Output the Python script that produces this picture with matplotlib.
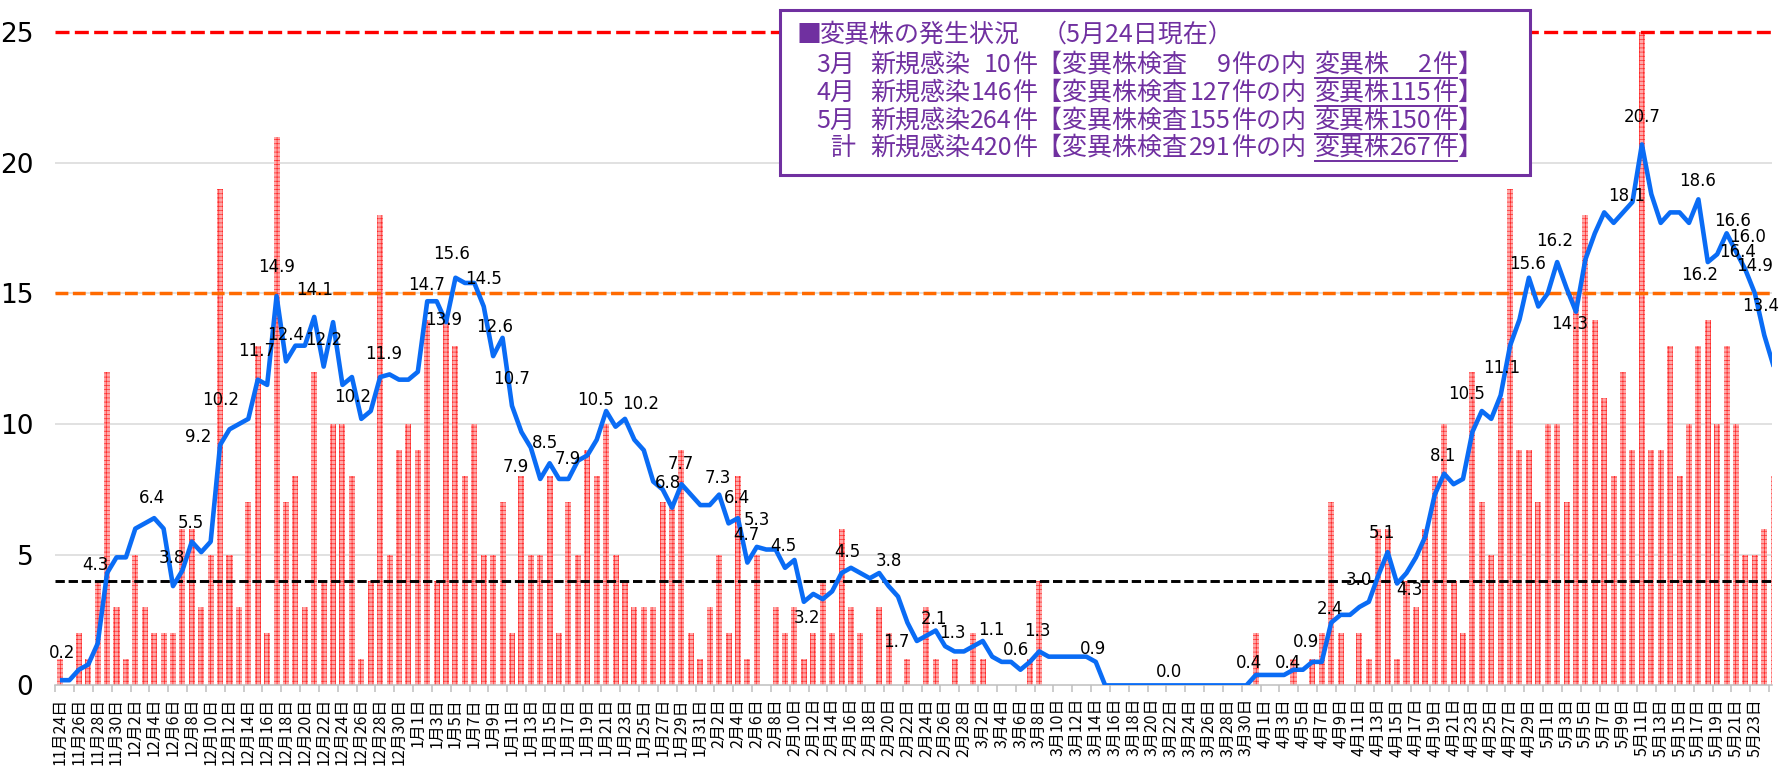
import numpy as np
import pandas as pd
import matplotlib
matplotlib.use('Agg')
import matplotlib.pyplot as plt
from matplotlib.patches import Rectangle
from matplotlib.lines import Line2D

W, H = 1783, 782
CJK = ['Noto Sans CJK JP', 'DejaVu Sans']
PURPLE = '#7030A0'

# daily new cases (bars), starting 2020-11-24
daily_cases = [
    1, 0, 2, 1, 4, 12, 3, 1, 5, 3, 2, 2, 2, 6, 6, 3, 5, 19, 5, 3,
    7, 13, 2, 21, 7, 8, 3, 12, 4, 10, 10, 8, 1, 4, 18, 5, 9, 10, 9, 14,
    4, 14, 13, 8, 10, 5, 5, 7, 2, 8, 5, 5, 8, 2, 7, 5, 9, 8, 10, 5,
    4, 3, 3, 3, 7, 7, 9, 2, 1, 3, 5, 2, 8, 1, 5, 0, 3, 2, 3, 1,
    2, 4, 2, 6, 3, 2, 0, 3, 2, 0, 1, 0, 3, 1, 0, 1, 0, 2, 1, 0,
    0, 0, 0, 1, 4, 0, 0, 0, 0, 0, 0, 0, 0, 0, 0, 0, 0, 0, 0, 0,
    0, 0, 0, 0, 0, 0, 0, 2, 0, 0, 0, 1, 0, 1, 2, 7, 2, 0, 2, 1,
    6, 6, 1, 4, 3, 6, 8, 10, 4, 2, 12, 7, 5, 11, 19, 9, 9, 7, 10, 10,
    7, 15, 18, 14, 11, 8, 12, 9, 25, 9, 9, 13, 8, 10, 13, 14, 10, 13, 10, 5,
    5, 6, 8,
]

# 7-day average (blue line)
weekly_avg = [
    0.2, 0.2, 0.6, 0.8, 1.6, 4.3, 4.9, 4.9, 6.0, 6.2, 6.4, 6.0, 3.8, 4.4, 5.5, 5.1, 5.5, 9.2, 9.8, 10.0,
    10.2, 11.7, 11.5, 14.9, 12.4, 13.0, 13.0, 14.1, 12.2, 13.9, 11.5, 11.8, 10.2, 10.5, 11.8, 11.9, 11.7, 11.7, 12.0, 14.7,
    14.7, 13.9, 15.6, 15.4, 15.4, 14.5, 12.6, 13.3, 10.7, 9.7, 9.1, 7.9, 8.5, 7.9, 7.9, 8.6, 8.8, 9.4, 10.5, 9.9,
    10.2, 9.4, 9.0, 7.8, 7.5, 6.8, 7.7, 7.3, 6.9, 6.9, 7.3, 6.2, 6.4, 4.7, 5.3, 5.2, 5.2, 4.5, 4.8, 3.2,
    3.5, 3.3, 3.6, 4.3, 4.5, 4.3, 4.1, 4.3, 3.8, 3.4, 2.4, 1.7, 1.9, 2.1, 1.5, 1.3, 1.3, 1.5, 1.7, 1.1,
    0.9, 0.9, 0.6, 0.9, 1.3, 1.1, 1.1, 1.1, 1.1, 1.1, 0.9, 0.0, 0.0, 0.0, 0.0, 0.0, 0.0, 0.0, 0.0, 0.0,
    0.0, 0.0, 0.0, 0.0, 0.0, 0.0, 0.0, 0.4, 0.4, 0.4, 0.4, 0.6, 0.6, 0.9, 0.9, 2.4, 2.7, 2.7, 3.0, 3.2,
    4.2, 5.1, 3.9, 4.3, 4.9, 5.7, 7.3, 8.1, 7.7, 7.9, 9.7, 10.5, 10.2, 11.1, 13.0, 14.0, 15.6, 14.5, 15.0, 16.2,
    15.2, 14.3, 16.3, 17.3, 18.1, 17.7, 18.1, 18.5, 20.7, 18.8, 17.7, 18.1, 18.1, 17.7, 18.6, 16.2, 16.5, 17.3, 16.6, 15.9,
    15.0, 13.4, 12.2,
]

# labelled points on the line: (index, text, dx, dy) offsets in pixels, dy downwards
line_labels = [
    (0, '0.2', 2, -27), (5, '4.3', -12, -8), (10, '6.4', -2, -20), (12, '3.8', -1, -28),
    (14, '5.5', -1, -19), (17, '9.2', -22, -8), (20, '10.2', -28, -19), (21, '11.7', -1, -29),
    (23, '14.9', 0, -29), (24, '12.4', 0, -26), (27, '14.1', 0, -27), (28, '12.2', 0, -27),
    (32, '10.2', -9, -22), (35, '11.9', -6, -20), (39, '14.7', -1, -16), (41, '13.9', -2, -2),
    (42, '15.6', -4, -24), (45, '14.5', 0, -27), (46, '12.6', 1, -29), (48, '10.7', 0, -27),
    (51, '7.9', -24, -12), (52, '8.5', -5, -20), (54, '7.9', -1, -20), (58, '10.5', -11, -11),
    (60, '10.2', 16, -15), (65, '6.8', -4, -25), (66, '7.7', -1, -20), (70, '7.3', -1, -17),
    (72, '6.4', -1, -20), (73, '4.7', -1, -28), (74, '5.3', 0, -27), (77, '4.5', -2, -22),
    (79, '3.2', 3, 16), (84, '4.5', -4, -16), (88, '3.8', 0, -25), (91, '1.7', -21, 1),
    (93, '2.1', -2, -12), (95, '1.3', -2, -18), (99, '1.1', -1, -27), (102, '0.6', -4, -20),
    (104, '1.3', -2, -20), (110, '0.9', -3, -13), (118, '0.0', -2, -13), (127, '0.4', -7, -12),
    (130, '0.4', 4, -12), (133, '0.9', -6, -20), (135, '2.4', -1, -14), (138, '3.0', -1, -27),
    (141, '5.1', -6, -19), (143, '4.3', 3, 17), (147, '8.1', -1, -18), (151, '10.5', -15, -17),
    (153, '11.1', 1, -27), (156, '15.6', -1, -14), (159, '16.2', -3, -21), (161, '14.3', -6, 12),
    (166, '18.1', 4, -16), (168, '20.7', 0, -27), (174, '18.6', -1, -18), (175, '16.2', -8, 13),
    (177, '16.6', 6, -12), (178, '16.0', 12, -15), (178, '16.4', 2, 0), (180, '14.9', 0, -27),
    (181, '13.4', -4, -29),
]

# summary box
box_months = ['3月', '4月', '5月', '計']
box_new = [10, 146, 264, 420]
box_tested = [9, 127, 155, 291]
box_variant = [2, 115, 150, 267]

# reference levels
ref_levels = [25, 15, 4]


def main():
    n = len(daily_cases)
    x = np.arange(n)
    dates = pd.date_range('2020-11-24', periods=n, freq='D')
    date_labels = [f'{d.month}月{d.day}日' for d in dates]

    plt.rcParams['hatch.linewidth'] = 0.5

    fig = plt.figure(figsize=(W / 100, H / 100), dpi=100)
    ax = fig.add_axes([55.3 / W, (H - 685.4) / H, (1772.3 - 55.3) / W, 653.3 / H])
    ax.set_xlim(-0.5, 181.85)
    ax.set_ylim(0, 25)

    # gridlines
    for v in (5, 10, 15, 20):
        ax.axhline(v, color='#D9D9D9', lw=1.1, zorder=1)

    ax.bar(x, daily_cases, width=0.64, color='#FFA8A8', edgecolor='#FF2A2A',
           linewidth=0, hatch='++++', zorder=2)

    ax.axhline(ref_levels[0], color='#FF0000', lw=2.4, dashes=(4.2, 1.6), zorder=4, clip_on=False)
    ax.axhline(ref_levels[1], color='#FF6A00', lw=2.5, dashes=(3.7, 1.3), zorder=4)
    ax.axhline(ref_levels[2], color='black', lw=2.1, dashes=(3.2, 1.3), zorder=4)

    ax.plot(x, weekly_avg, color='#0A6CF5', lw=3.3, zorder=5, solid_capstyle='butt')

    for i, txt, dx, dy in line_labels:
        ax.annotate(txt, (i, weekly_avg[i]), xytext=(dx, -dy), textcoords='offset pixels',
                    ha='center', va='center', fontsize=12, color='black', zorder=6,
                    family='DejaVu Sans')

    for side in ('left', 'right', 'top'):
        ax.spines[side].set_visible(False)
    ax.spines['bottom'].set_color('#BFBFBF')
    ax.spines['bottom'].set_linewidth(1.1)
    ax.spines['bottom'].set_zorder(3)

    ax.set_yticks([0, 5, 10, 15, 20, 25])
    ax.tick_params(axis='y', length=0, pad=15.8)
    for t in ax.get_yticklabels():
        t.set_fontsize(19)
        t.set_family(['Liberation Sans Narrow', 'DejaVu Sans'])

    ticks = list(range(0, 181, 2))
    ax.set_xticks(ticks)
    ax.set_xticklabels([date_labels[i] for i in ticks], rotation=90, fontsize=11.5, family=CJK)
    ax.set_xticks(np.arange(-0.5, 182, 2), minor=True)
    ax.tick_params(axis='x', which='major', length=0, pad=9)
    ax.tick_params(axis='x', which='minor', length=5, width=1.1, color='#BFBFBF', direction='out')

    # summary box in figure pixels
    def fx(px):
        return px / W

    def fy(py):
        return 1 - py / H

    fig.add_artist(Rectangle((fx(780), fy(175)), 750 / W, 165 / H, transform=fig.transFigure,
                             facecolor='white', edgecolor=PURPLE, lw=2.2, zorder=10))

    def put(px, py, s, ha='left'):
        fig.text(fx(px), fy(py), s, ha=ha, va='center', color=PURPLE, fontsize=18,
                 family=CJK, zorder=11)

    put(797, 35, '■')
    put(820, 35, '変異株の発生状況')
    put(1042, 35, '（5月24日現在）')

    row_y = [65, 93, 121, 148]
    for k, y in enumerate(row_y):
        put(855, y, box_months[k], ha='right')
        put(870, y, '新規感染')
        put(1012, y, str(box_new[k]), ha='right')
        put(1012, y, '件【変異株検査')
        put(1231, y, str(box_tested[k]), ha='right')
        put(1231, y, '件の内')
        put(1315, y, '変異株')
        put(1432, y, str(box_variant[k]), ha='right')
        put(1432, y, '件')
        put(1457, y, '】')
        fig.add_artist(Line2D([fx(1315), fx(1457)], [fy(y + 13), fy(y + 13)],
                              transform=fig.transFigure, color=PURPLE, lw=1.4, zorder=11))

    fig.savefig('out.png', dpi=100)


if __name__ == '__main__':
    main()
